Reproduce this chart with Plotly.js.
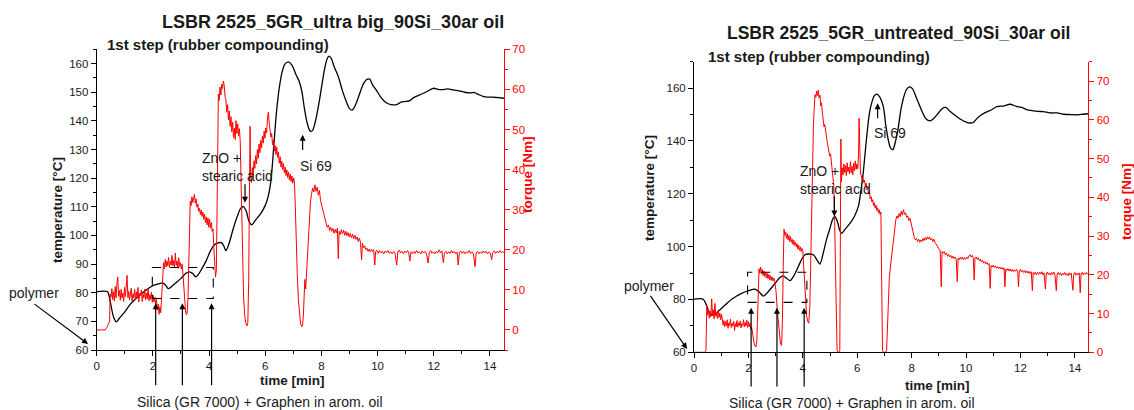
<!DOCTYPE html>
<html>
<head>
<meta charset="utf-8">
<script src="https://cdn.plot.ly/plotly-3.0.1.min.js"></script>
<style>
  html, body { margin: 0; padding: 0; background: #ffffff; }
  #chart { width: 1134px; height: 410px; }
</style>
</head>
<body>
<div id="chart"></div>
<script>
// ---------- Mixer 1: ultra big graphene ----------
const tempTimeA = [0,0.38,0.45,0.52,0.6,0.7,0.8,1.0,1.2,1.4,1.6,1.8,2.0,2.2,2.35,2.45,2.55,2.65,2.8,3.0,3.15,3.3,3.42,3.52,3.62,3.75,3.9,4.05,4.2,4.35,4.45,4.53,4.6,4.7,4.85,5.0,5.12,5.22,5.32,5.42,5.52,5.65,5.85,6.0,6.1,6.18,6.24,6.31,6.4,6.5,6.6,6.7,6.82,6.95,7.1,7.2,7.3,7.4,7.5,7.6,7.68,7.78,7.9,8.0,8.1,8.2,8.27,8.35,8.45,8.6,8.75,8.9,9.0,9.1,9.2,9.35,9.5,9.62,9.72,9.82,9.95,10.1,10.25,10.4,10.55,10.7,10.85,11.0,11.15,11.3,11.5,11.7,11.85,12.0,12.15,12.3,12.5,12.7,12.9,13.1,13.3,13.45,13.6,13.75,13.9,14.1,14.3,14.5];
const tempA = [80.4,80.4,78.5,75,71.5,69.8,71,73.3,76,78,79.7,81.2,82.5,83.1,83.4,82.7,81.4,82,83.3,85,86.6,87.3,86.7,85.5,86.4,88.5,91.2,94.6,96.8,97.5,97.4,96.2,94.7,96.8,102,106.5,109.4,110.1,108.6,105,103.7,105.3,107.8,110.5,113.5,117.5,123,132,143,151.5,157,159.8,160.6,159.5,156,154,150.5,144,139,136.4,136.6,139.6,145.5,151.5,157.5,161.6,162.6,161.8,159,155.5,150.5,146.4,144.3,143.8,145.3,149.2,153,154.5,154.6,152.6,150.8,148.5,146.8,145.9,145.6,145.8,146.6,146.8,147.1,148.2,149.1,150,150.8,151.4,151,150.9,151.2,150.8,150.5,150,149.8,149.9,149.2,148.6,148.3,148.3,148.1,147.9];

const torqueTimeA = [0,0.30,0.36,0.42,0.46,0.48,0.51,0.54,0.57,0.60,0.63,0.66,0.69,0.72,0.75,0.78,0.81,0.84,0.87,0.90,0.93,0.96,0.99,1.02,1.05,1.08,1.11,1.14,1.17,1.20,1.23,1.26,1.29,1.32,1.35,1.38,1.41,1.44,1.47,1.50,1.53,1.56,1.59,1.62,1.65,1.68,1.71,1.74,1.77,1.80,1.83,1.86,1.89,1.92,1.95,1.98,2.01,2.04,2.07,2.10,2.13,2.16,2.19,2.22,2.25,2.28,2.31,2.33,2.35,2.38,2.41,2.44,2.47,2.50,2.53,2.56,2.59,2.62,2.65,2.68,2.71,2.74,2.77,2.80,2.83,2.86,2.89,2.92,2.95,2.98,3.01,3.04,3.07,3.10,3.13,3.16,3.19,3.22,3.25,3.28,3.30,3.33,3.36,3.39,3.42,3.45,3.48,3.51,3.54,3.57,3.60,3.63,3.66,3.69,3.72,3.75,3.78,3.81,3.84,3.87,3.90,3.93,3.96,3.99,4.02,4.05,4.08,4.11,4.14,4.17,4.20,4.23,4.26,4.29,4.31,4.33,4.36,4.39,4.42,4.45,4.48,4.51,4.54,4.57,4.60,4.63,4.66,4.69,4.72,4.75,4.78,4.81,4.84,4.87,4.90,4.93,4.96,4.99,5.02,5.05,5.08,5.11,5.14,5.17,5.20,5.23,5.27,5.31,5.35,5.38,5.41,5.43,5.46,5.48,5.51,5.54,5.57,5.60,5.63,5.66,5.69,5.72,5.75,5.78,5.81,5.84,5.87,5.90,5.93,5.96,5.99,6.02,6.05,6.08,6.11,6.14,6.17,6.20,6.23,6.26,6.29,6.32,6.35,6.38,6.41,6.44,6.47,6.50,6.53,6.56,6.59,6.62,6.65,6.68,6.71,6.74,6.77,6.80,6.83,6.86,6.89,6.92,6.95,6.98,7.01,7.04,7.07,7.10,7.14,7.18,7.22,7.26,7.30,7.33,7.36,7.39,7.41,7.44,7.47,7.50,7.53,7.57,7.61,7.65,7.69,7.73,7.77,7.81,7.85,7.89,7.93,7.97,8.01,8.05,8.09,8.13,8.17,8.21,8.25,8.29,8.33,8.37,8.41,8.45,8.49,8.53,8.57,8.60,8.63,8.67,8.71,8.75,8.79,8.83,8.87,8.91,8.95,8.99,9.03,9.07,9.11,9.15,9.19,9.23,9.27,9.31,9.35,9.39,9.43,9.46,9.50,9.54,9.58,9.62,9.66,9.70,9.74,9.78,9.82,9.86,9.90,9.93,9.97,10.02,10.07,10.12,10.17,10.22,10.27,10.32,10.37,10.42,10.47,10.52,10.57,10.62,10.68,10.72,10.77,10.82,10.87,10.92,10.97,11.02,11.07,11.11,11.15,11.19,11.24,11.29,11.34,11.39,11.44,11.49,11.54,11.59,11.64,11.69,11.74,11.80,11.84,11.89,11.94,11.99,12.04,12.09,12.14,12.19,12.24,12.29,12.34,12.38,12.43,12.48,12.53,12.58,12.63,12.68,12.73,12.78,12.83,12.87,12.91,12.96,13.01,13.06,13.11,13.16,13.21,13.26,13.31,13.36,13.41,13.47,13.51,13.56,13.61,13.66,13.71,13.76,13.81,13.86,13.91,13.96,14.01,14.06,14.10,14.15,14.20,14.25,14.30,14.35,14.40,14.45,14.50];
const torqueA = [0,0,0.6,1.5,2.2,9.0,8.2,10.3,7.6,9.6,7.2,10.8,8.0,11.5,13.2,8.4,9.8,7.4,10.1,8.0,9.2,7.1,10.6,8.3,11.0,13.6,8.1,9.6,7.5,9.1,10.4,7.2,9.0,8.0,10.1,7.6,9.5,8.1,10.6,7.0,9.1,8.6,10.0,7.1,9.0,8.0,10.2,7.5,9.2,7.8,10.4,7.3,8.8,7.6,9.4,6.9,8.6,7.0,8.2,6.2,7.6,5.0,6.4,3.9,5.8,4.3,8.5,13.0,15.6,16.8,15.2,17.6,15.7,17.2,16.0,18.1,15.6,17.1,16.2,18.6,16.0,17.3,15.6,19.2,16.1,17.2,15.4,18.0,15.8,16.8,15.2,16.4,14.0,10.5,7.0,5.0,3.8,4.2,8.0,20.0,30.5,32.1,31.0,33.2,31.8,33.0,33.8,31.6,32.7,30.6,31.4,29.6,30.3,28.8,29.9,28.3,29.4,27.6,28.9,26.8,28.2,26.2,27.9,25.6,27.6,25.4,26.8,24.6,25.2,20.5,15.5,13.2,15.0,28.0,45.0,58.8,57.2,60.6,58.6,61.3,60.2,62.1,61.0,58.2,57.4,54.3,56.2,52.4,54.6,50.8,53.2,49.4,51.8,48.0,50.3,47.5,52.2,49.0,51.4,48.4,50.2,47.0,35.0,26.0,16.0,8.0,3.5,1.6,1.0,1.8,12.0,42.0,50.8,38.0,36.8,40.5,38.6,42.2,40.3,43.5,41.4,45.0,42.8,46.4,44.2,47.3,45.4,48.4,46.6,49.6,47.8,50.4,49.2,52.6,54.3,51.8,49.9,48.1,49.0,46.2,47.4,44.6,46.0,43.7,45.6,43.0,44.4,41.6,43.2,40.6,42.1,40.0,41.5,39.2,40.6,38.5,39.9,38.0,39.4,37.4,38.9,37.0,38.4,36.6,37.9,36.8,31.0,22.0,14.0,7.5,3.5,1.5,0.8,1.2,4.0,9.5,12.6,10.2,13.6,19.0,23.4,28.0,32.0,34.0,35.4,34.4,36.2,34.6,35.6,33.6,34.8,32.2,31.0,29.8,28.2,27.2,26.6,25.6,26.2,24.8,25.6,24.6,25.3,24.1,25.1,24.2,25.4,17.8,24.6,23.8,25.0,24.0,24.9,23.6,24.6,23.5,24.3,23.2,24.1,23.0,23.9,22.8,23.6,22.6,23.2,22.1,22.9,21.9,17.5,21.6,20.5,21.0,20.0,20.4,19.6,20.2,19.5,20.1,19.6,20.0,16.2,19.5,19.9,19.1,19.8,19.2,19.6,19.0,19.7,19.3,19.8,19.1,19.5,19.0,19.6,19.2,16.2,19.4,19.9,19.2,19.6,19.0,19.7,19.3,19.8,19.1,17.2,19.5,19.0,19.6,19.1,19.8,19.2,19.5,19.0,19.7,19.2,19.6,19.0,16.7,19.3,19.8,19.1,19.5,19.0,19.6,19.2,20.0,19.3,19.7,16.8,19.2,19.6,19.0,19.5,19.1,19.8,19.2,19.6,19.0,19.4,16.2,19.3,19.7,19.1,19.6,19.0,19.5,19.2,19.8,19.1,19.5,19.0,15.8,19.2,19.6,19.0,19.5,19.1,19.7,19.2,19.6,19.0,19.5,19.2,17.5,19.3,19.7,19.1,19.6,19.2,19.8,19.3,19.6,19.2];

// ---------- Mixer 2: untreated graphene ----------
const tempTimeB = [0,0.34,0.45,0.55,0.67,0.8,1.0,1.14,1.4,1.75,2.0,2.24,2.4,2.55,2.7,2.98,3.15,3.28,3.4,3.53,3.65,3.78,3.95,4.08,4.2,4.39,4.52,4.63,4.75,4.88,5.0,5.1,5.18,5.28,5.35,5.43,5.55,5.74,5.9,6.05,6.12,6.22,6.35,6.45,6.53,6.62,6.72,6.82,6.96,7.05,7.14,7.22,7.31,7.4,7.51,7.6,7.69,7.8,7.92,8.03,8.19,8.37,8.52,8.68,8.8,8.98,9.12,9.26,9.4,9.6,9.8,10.03,10.15,10.27,10.45,10.7,10.94,11.13,11.4,11.62,11.85,12.05,12.25,12.42,12.65,12.84,13.1,13.35,13.6,13.85,14.1,14.3,14.5];
const tempB = [80.1,80.1,78,75.5,74.1,74.8,76.5,77.9,80.2,82.3,83.3,83.9,82.8,81.3,82.6,86.1,88.2,88.9,88,87.1,88.6,91.2,95,96.9,97.2,96.9,95,93.4,97.5,103,107,110.4,111.4,109.2,106.4,105,106.5,108.9,111.5,115.5,120,127.8,141.7,150.5,154.3,157,157.7,156.8,153,146,140.5,137.5,136.7,139.5,145,151.5,155.8,159.3,160.5,159.8,156,151.5,148.5,147.6,148.4,150.5,152.2,152.7,151.3,149.7,148.2,147,146.8,147,149,150.7,151.8,153,153.3,153.9,153.1,152.7,151.8,151.5,151.2,151.1,150.6,150.6,150.1,150,149.9,150.1,150.3];

const torqueTimeB = [0,0.40,0.44,0.47,0.50,0.53,0.56,0.59,0.62,0.65,0.68,0.71,0.74,0.77,0.80,0.83,0.86,0.89,0.92,0.95,0.98,1.01,1.04,1.07,1.10,1.13,1.16,1.19,1.22,1.25,1.28,1.31,1.34,1.37,1.40,1.43,1.46,1.49,1.52,1.55,1.58,1.61,1.64,1.67,1.70,1.73,1.76,1.79,1.82,1.85,1.88,1.91,1.94,1.97,2.00,2.03,2.06,2.09,2.12,2.15,2.18,2.21,2.24,2.28,2.31,2.34,2.36,2.39,2.42,2.45,2.48,2.51,2.54,2.57,2.60,2.63,2.66,2.69,2.72,2.75,2.78,2.81,2.84,2.87,2.90,2.93,2.96,2.99,3.02,3.06,3.10,3.14,3.18,3.22,3.25,3.28,3.31,3.34,3.37,3.40,3.43,3.46,3.49,3.52,3.55,3.58,3.61,3.64,3.67,3.70,3.73,3.76,3.79,3.82,3.85,3.88,3.91,3.94,3.97,4.00,4.03,4.06,4.10,4.14,4.18,4.22,4.26,4.30,4.33,4.36,4.39,4.42,4.45,4.48,4.51,4.54,4.57,4.60,4.63,4.66,4.69,4.72,4.75,4.78,4.81,4.84,4.87,4.90,4.93,4.96,4.99,5.02,5.05,5.08,5.11,5.14,5.17,5.20,5.23,5.26,5.29,5.33,5.36,5.38,5.40,5.42,5.45,5.48,5.51,5.54,5.57,5.60,5.63,5.66,5.69,5.72,5.75,5.78,5.81,5.84,5.87,5.90,5.93,5.96,5.99,6.02,6.05,6.07,6.09,6.12,6.15,6.18,6.21,6.24,6.27,6.30,6.33,6.36,6.39,6.42,6.45,6.48,6.51,6.54,6.57,6.60,6.63,6.66,6.69,6.72,6.75,6.78,6.81,6.84,6.87,6.89,6.91,6.93,6.96,7.04,7.08,7.11,7.14,7.18,7.22,7.26,7.30,7.34,7.38,7.42,7.46,7.50,7.54,7.58,7.62,7.66,7.70,7.74,7.78,7.82,7.86,7.90,7.94,7.98,8.02,8.06,8.10,8.14,8.18,8.22,8.26,8.30,8.34,8.38,8.42,8.46,8.50,8.54,8.58,8.62,8.66,8.70,8.74,8.78,8.82,8.86,8.90,8.94,8.98,9.01,9.05,9.09,9.12,9.16,9.20,9.24,9.28,9.32,9.36,9.40,9.44,9.48,9.52,9.56,9.60,9.64,9.68,9.71,9.75,9.79,9.83,9.87,9.91,9.95,9.99,10.03,10.07,10.11,10.15,10.19,10.23,10.27,10.30,10.33,10.37,10.41,10.45,10.49,10.53,10.57,10.61,10.65,10.69,10.73,10.77,10.81,10.85,10.89,10.92,10.96,11.00,11.04,11.08,11.12,11.16,11.20,11.24,11.28,11.32,11.36,11.40,11.43,11.46,11.50,11.54,11.58,11.62,11.66,11.70,11.74,11.78,11.82,11.86,11.90,11.93,11.96,12.00,12.04,12.08,12.12,12.16,12.20,12.24,12.28,12.32,12.36,12.40,12.44,12.47,12.51,12.55,12.59,12.63,12.67,12.71,12.75,12.79,12.83,12.87,12.92,12.95,12.99,13.03,13.07,13.11,13.15,13.19,13.23,13.27,13.32,13.35,13.39,13.43,13.47,13.51,13.55,13.59,13.63,13.67,13.71,13.75,13.79,13.83,13.87,13.93,13.96,14.00,14.04,14.08,14.12,14.16,14.20,14.23,14.27,14.31,14.35,14.39,14.43,14.47,14.50];
const torqueB = [0,0,0.5,12.0,9.6,11.2,8.8,10.6,9.2,13.8,9.5,11.0,8.6,12.6,9.3,10.4,8.7,10.8,9.0,10.1,8.4,9.8,8.6,7.0,8.2,6.6,7.9,6.8,8.4,6.2,7.6,6.9,8.6,6.4,7.5,6.8,8.0,5.6,7.4,6.6,8.2,6.5,7.6,6.9,8.1,6.3,7.4,6.9,8.4,6.6,7.7,6.8,8.3,6.4,7.9,6.6,7.5,5.9,6.4,4.6,3.2,2.4,1.6,1.4,3.0,12.0,19.5,21.6,20.4,22.0,20.2,21.4,19.8,21.0,19.6,20.6,19.2,20.4,19.0,20.1,18.7,19.8,18.6,19.5,18.4,19.2,18.8,17.2,15.5,11.0,7.5,4.0,2.2,1.8,8.0,22.0,31.8,30.2,31.0,29.4,30.6,29.0,30.2,28.6,29.8,28.4,29.2,27.8,28.9,27.6,28.4,27.2,28.0,26.6,27.6,26.3,27.2,26.0,26.8,26.2,22.0,17.0,12.0,9.5,8.0,7.5,12.0,28.0,40.0,52.0,58.5,63.0,66.5,65.8,67.4,66.2,67.7,65.6,66.4,63.6,64.4,61.8,60.4,58.2,58.8,56.4,55.6,54.2,53.0,52.6,50.6,51.2,49.0,48.4,46.4,43.0,34.0,18.0,6.0,0.5,0,0,0.5,30.0,55.0,44.0,47.6,45.8,48.6,46.4,48.2,45.6,48.9,46.6,47.8,46.0,49.2,46.4,48.0,45.8,48.8,46.9,49.4,47.2,48.6,47.4,51.0,60.4,50.0,46.0,45.6,44.6,45.2,43.8,44.4,42.8,43.6,41.9,42.6,40.8,41.4,39.6,40.2,38.8,39.4,37.9,38.6,37.2,38.0,36.6,37.3,36.0,36.8,35.6,36.2,20.0,5.0,0.5,0,0,0.5,8.0,15.2,19.0,22.0,24.5,27.5,30.6,32.8,34.2,35.2,34.6,35.8,35.0,36.4,35.4,36.8,35.6,36.0,34.8,35.2,34.0,34.6,33.4,32.0,30.4,29.6,29.0,29.4,28.6,29.2,28.4,29.0,28.6,29.4,28.8,29.6,29.0,29.8,29.2,29.8,29.0,29.4,28.6,29.2,28.4,28.0,27.6,27.2,26.8,26.2,16.9,26.0,25.6,26.0,25.2,25.6,24.8,25.3,24.6,25.0,24.3,24.8,24.2,24.6,24.0,18.2,24.3,23.9,24.5,24.0,24.6,23.9,24.4,24.0,24.6,24.2,24.9,25.2,24.6,25.0,24.4,18.7,24.2,24.6,24.0,24.4,23.6,24.0,23.3,23.7,23.0,23.4,22.8,23.2,22.6,22.9,16.5,22.4,22.0,22.5,21.9,22.3,21.7,22.1,21.6,22.0,21.5,21.9,21.4,21.8,16.9,21.5,21.1,21.6,21.0,21.5,20.9,21.4,20.8,21.3,20.9,21.4,20.8,16.9,21.0,21.4,20.7,21.2,20.6,21.1,20.5,21.0,20.4,20.9,20.3,20.8,15.9,20.6,20.1,20.7,20.0,20.6,20.1,20.7,20.2,20.8,20.0,20.5,16.3,20.2,20.7,20.0,20.5,19.9,20.6,20.1,20.7,20.0,15.9,20.2,20.6,20.0,20.5,19.8,20.4,20.0,20.6,19.9,20.3,19.8,20.5,20.0,20.4,16.0,20.1,20.6,19.9,20.4,20.0,20.5,15.4,20.2,20.6,20.0,20.5,20.1,20.6,20.2,20.4];

// ---------- labels and marker positions ----------
const chartTitles = ['LSBR 2525_5GR_ultra big_90Si_30ar oil', 'LSBR 2525_5GR_untreated_90Si_30ar oil'];
const stepLabel = '1st step (rubber compounding)';
const feedLabel = 'Silica (GR 7000) + Graphen in arom. oil';
const feedTimesA = [2.1, 3.05, 4.09];
const feedTimesB = [2.1, 3.05, 4.05];
const zincTimes = [5.28, 5.16];      // ZnO + stearic acid addition
const silaneTimes = [7.33, 6.75];    // Si 69 addition
const feedBoxA = [1.98, 4.15, 78.0, 88.8];
const feedBoxB = [1.97, 4.15, 78.9, 90.3];

const FONT = '"Liberation Sans", Arial, Helvetica, sans-serif';
const INK = '#1a1a1a';
const RED = '#ff0000';

const W = 1134, H = 410;
const px = v => v / W;           // pixel -> paper x
const py = v => (H - v) / H;     // pixel -> paper y

const traces = [
  { x: tempTimeA, y: tempA, xaxis: 'x', yaxis: 'y', mode: 'lines',
    line: { color: '#000', width: 1.3, shape: 'spline', smoothing: 0.8 }, hoverinfo: 'skip' },
  { x: torqueTimeA, y: torqueA, xaxis: 'x', yaxis: 'y2', mode: 'lines',
    line: { color: RED, width: 1 }, hoverinfo: 'skip' },
  { x: tempTimeB, y: tempB, xaxis: 'x2', yaxis: 'y3', mode: 'lines',
    line: { color: '#000', width: 1.3, shape: 'spline', smoothing: 0.8 }, hoverinfo: 'skip' },
  { x: torqueTimeB, y: torqueB, xaxis: 'x2', yaxis: 'y4', mode: 'lines',
    line: { color: RED, width: 1 }, hoverinfo: 'skip' }
];

const tickFont = { family: FONT, size: 11.5, color: INK };
const redTickFont = { family: FONT, size: 11.5, color: RED };

function timeAxis(domain, anchor) {
  return {
    domain: domain, anchor: anchor, range: [0, 14.5], tick0: 0, dtick: 2,
    showline: true, linecolor: '#000', linewidth: 1, ticks: 'outside', ticklen: 5,
    tickcolor: '#000', tickfont: tickFont, showgrid: false, zeroline: false,
    minor: { dtick: 1, tick0: 0, ticks: 'outside', ticklen: 3, tickcolor: '#000' }
  };
}
function tempAxis(domain, anchor, range, dtick) {
  return {
    domain: domain, anchor: anchor, range: range, tick0: 60, dtick: dtick,
    showline: true, linecolor: '#000', linewidth: 1, ticks: 'outside', ticklen: 5,
    tickcolor: '#000', tickfont: tickFont, showgrid: false, zeroline: false,
    minor: { dtick: dtick / 2, tick0: 60, ticks: 'outside', ticklen: 3, tickcolor: '#000' }
  };
}
function torqueAxis(over, anchor, range) {
  return {
    overlaying: over, side: 'right', anchor: anchor, range: range, tick0: 0, dtick: 10,
    showline: true, linecolor: RED, linewidth: 1, ticks: 'outside', ticklen: 5,
    tickcolor: RED, tickfont: redTickFont, showgrid: false, zeroline: false,
    minor: { dtick: 5, tick0: 0, ticks: 'outside', ticklen: 3, tickcolor: RED }
  };
}

const textAnn = (x, y, text, opts) => Object.assign({
  xref: 'paper', yref: 'paper', x: x, y: y, text: text, showarrow: false,
  xanchor: 'center', yanchor: 'middle',
  font: { family: FONT, size: 14, color: INK }
}, opts || {});

const arrow = (xref, yref, x, y, ax, ay) => ({
  xref: xref, yref: yref, x: x, y: y, axref: xref, ayref: yref, ax: ax, ay: ay,
  text: '', showarrow: true, arrowhead: 2, arrowsize: 1, arrowwidth: 1.2,
  arrowcolor: '#000', standoff: 0
});

const annotations = [
  // titles
  textAnn(px(333), py(22), '<b>' + chartTitles[0] + '</b>', { font: { family: FONT, size: 18, color: INK } }),
  textAnn(px(105), py(45), '<b>' + stepLabel + '</b>', { xanchor: 'left', font: { family: FONT, size: 15, color: INK } }),
  textAnn(px(898.7), py(33), '<b>' + chartTitles[1] + '</b>', { font: { family: FONT, size: 17.5, color: INK } }),
  textAnn(px(706), py(56), '<b>' + stepLabel + '</b>', { xanchor: 'left', font: { family: FONT, size: 15, color: INK } }),
  // axis titles
  textAnn(px(57), py(210), '<b>temperature [°C]</b>', { textangle: -90, font: { family: FONT, size: 13.5, color: INK } }),
  textAnn(px(527), py(175), '<b>torque [Nm]</b>', { textangle: -90, font: { family: FONT, size: 13.5, color: RED } }),
  textAnn(px(292), py(380), '<b>time [min]</b>', { font: { family: FONT, size: 13.5, color: INK } }),
  textAnn(px(650), py(188), '<b>temperature [°C]</b>', { textangle: -90, font: { family: FONT, size: 13.5, color: INK } }),
  textAnn(px(1126), py(202), '<b>torque [Nm]</b>', { textangle: -90, font: { family: FONT, size: 13.5, color: RED } }),
  textAnn(px(937), py(385), '<b>time [min]</b>', { font: { family: FONT, size: 13.5, color: INK } }),
  // process notes, left chart
  textAnn(px(34), py(292.7), 'polymer'),
  textAnn(px(260), py(401.7), feedLabel),
  textAnn(px(200), py(166.7), 'ZnO +<br>stearic acid', { xanchor: 'left', align: 'left' }),
  textAnn(px(298.3), py(166), 'Si 69', { xanchor: 'left' }),
  // process notes, right chart
  textAnn(px(648.7), py(286), 'polymer'),
  textAnn(px(852), py(402.7), feedLabel),
  textAnn(px(798.3), py(180), 'ZnO +<br>stearic acid', { xanchor: 'left', align: 'left' }),
  textAnn(px(871.7), py(132.7), 'Si 69', { xanchor: 'left' })
];

// polymer pointers (drawn in paper space, pixel offsets for the tail)
annotations.push(Object.assign(arrow('paper', 'paper', px(88), py(344), 0, 0), { axref: 'pixel', ayref: 'pixel', ax: -55, ay: -41 }));
annotations.push(Object.assign(arrow('paper', 'paper', px(687), py(349), 0, 0), { axref: 'pixel', ayref: 'pixel', ax: -37.6, ay: -54.7 }));

// silica / graphene feed arrows from below the time axis
feedTimesA.forEach(t => annotations.push(arrow('x', 'y', t, 76.3, t, 47.2)));
feedTimesB.forEach(t => annotations.push(arrow('x2', 'y3', t, 76.9, t, 46.5)));

// ZnO and Si 69 pointers
annotations.push(arrow('x', 'y', zincTimes[0], 111.4, zincTimes[0], 118.4));
annotations.push(arrow('x2', 'y3', zincTimes[1], 111.4, zincTimes[1], 119.6));
annotations.push(arrow('x', 'y', silaneTimes[0], 135.2, silaneTimes[0], 129.3));
annotations.push(arrow('x2', 'y3', silaneTimes[1], 154.3, silaneTimes[1], 148.0));

const shapes = [
  { type: 'rect', xref: 'x', yref: 'y', x0: feedBoxA[0], x1: feedBoxA[1], y0: feedBoxA[2], y1: feedBoxA[3],
    line: { color: '#000', width: 1.1, dash: 'dash' } },
  { type: 'rect', xref: 'x2', yref: 'y3', x0: feedBoxB[0], x1: feedBoxB[1], y0: feedBoxB[2], y1: feedBoxB[3],
    line: { color: '#000', width: 1.1, dash: 'dash' } }
];

const layout = {
  width: W, height: H,
  margin: { l: 0, r: 0, t: 0, b: 0, pad: 0 },
  paper_bgcolor: '#fff', plot_bgcolor: 'rgba(0,0,0,0)',
  showlegend: false,
  font: { family: FONT, color: INK },
  xaxis: timeAxis([96.7 / W, 504 / W], 'y'),
  yaxis: tempAxis([(H - 350) / H, (H - 49.3) / H], 'x', [60, 165], 10),
  yaxis2: torqueAxis('y', 'x', [-5, 70]),
  xaxis2: timeAxis([694 / W, 1088.4 / W], 'y3'),
  yaxis3: tempAxis([(H - 352.3) / H, (H - 61.7) / H], 'x2', [60, 170], 20),
  yaxis4: torqueAxis('y3', 'x2', [0, 75]),
  annotations: annotations,
  shapes: shapes
};

Plotly.newPlot('chart', traces, layout, { staticPlot: true, displayModeBar: false });
</script>
</body>
</html>
